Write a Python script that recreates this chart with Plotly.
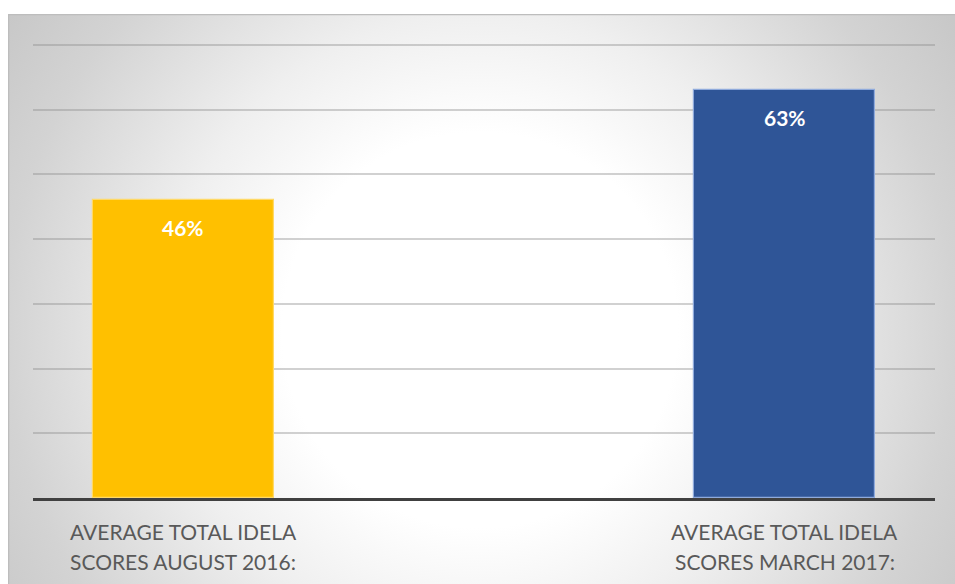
import base64
import plotly.graph_objects as go

categories = ["AVERAGE TOTAL IDELA<br>SCORES AUGUST 2016:", "AVERAGE TOTAL IDELA<br>SCORES MARCH 2017:"]
values = [46, 63]
bar_colors = ["#FFC000", "#2F5597"]
bar_edges = ["#FFD966", "#8FAADC"]
xpos = [0, 1]

W, H = 955, 584
ml, mr, mt, mb = 33, 20, 43, 86
pw = W - ml - mr
ph = H - mt - mb

# radial gradient background for the chart box
box_x0, box_y0, box_x1, box_y1 = 8, 14, 960, 600
bw, bh = box_x1 - box_x0, box_y1 - box_y0
svg = f'''<svg xmlns="http://www.w3.org/2000/svg" width="{bw}" height="{bh}" viewBox="0 0 {bw} {bh}">
<defs><radialGradient id="g" gradientUnits="userSpaceOnUse" cx="{480-box_x0}" cy="{330-box_y0}" r="565">
<stop offset="0" stop-color="#ffffff"/>
<stop offset="0.35" stop-color="#ffffff"/>
<stop offset="0.56" stop-color="#efefef"/>
<stop offset="0.84" stop-color="#d3d3d3"/>
<stop offset="1" stop-color="#c8c8c8"/>
</radialGradient></defs>
<rect x="0" y="0" width="{bw}" height="{bh}" fill="url(#g)"/>
<line x1="0" y1="0.5" x2="{bw}" y2="0.5" stroke="#bdbdbd" stroke-width="1.5"/>
<line x1="0.5" y1="0" x2="0.5" y2="{bh}" stroke="#bdbdbd" stroke-width="1.5"/>
</svg>'''
src = "data:image/svg+xml;base64," + base64.b64encode(svg.encode()).decode()

fig = go.Figure()
fig.add_trace(go.Bar(
    x=xpos, y=values, width=0.301,
    marker=dict(color=bar_colors, line=dict(color=bar_edges, width=1.2)),
    hoverinfo="skip", showlegend=False,
))

annotations = []
for xi, v in zip(xpos, values):
    annotations.append(dict(
        x=xi, y=v, xref="x", yref="y", text=f"<b>{v}%</b>", showarrow=False,
        yanchor="middle", yshift=-27,
        font=dict(family="Lato", size=21, color="#ffffff"),
    ))
for xi, cat in zip(xpos, categories):
    for k, line in enumerate(cat.split("<br>")):
        annotations.append(dict(
            x=xi, y=0, xref="x", yref="paper", text=line, showarrow=False,
            yanchor="middle", yshift=-33.5 - 30 * k,
            font=dict(family="Lato", size=21, color="#595959"),
        ))

fig.update_layout(
    width=W, height=H,
    margin=dict(l=ml, r=mr, t=mt, b=mb, pad=0),
    paper_bgcolor="#ffffff",
    plot_bgcolor="rgba(0,0,0,0)",
    images=[dict(
        source=src, xref="paper", yref="paper",
        x=(box_x0 - ml) / pw, y=1 + (mt - box_y0) / ph,
        sizex=bw / pw, sizey=bh / ph,
        xanchor="left", yanchor="top", sizing="stretch", layer="below",
    )],
    xaxis=dict(range=[-0.25, 1.25], showticklabels=False, showgrid=False,
               zeroline=False, showline=True, linecolor="#404040", linewidth=3,
               ticks="", fixedrange=True),
    yaxis=dict(range=[0, 70.3], tickvals=[10, 20, 30, 40, 50, 60, 70],
               showticklabels=False, showgrid=True,
               gridcolor="rgba(140,140,140,0.4)", gridwidth=1.5,
               zeroline=False, showline=False, ticks=""),
    annotations=annotations,
    bargap=0,
)

fig.write_html("out.html")
